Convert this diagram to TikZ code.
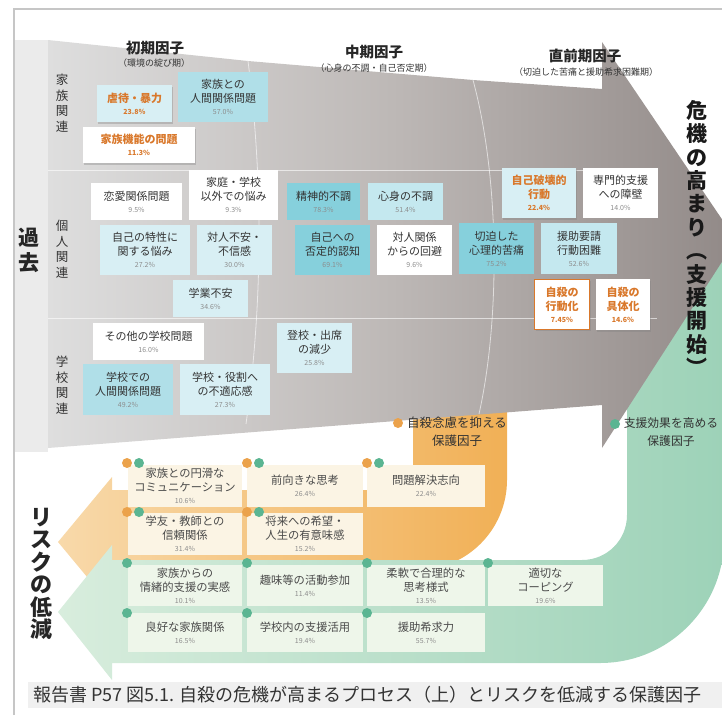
\documentclass[tikz,border=0pt]{standalone}
\usepackage{fontspec}
\setmainfont{Noto Sans CJK JP}
\usetikzlibrary{shadows}
\definecolor{framec}{HTML}{C6C6C6}
\definecolor{txt}{HTML}{333333}
\definecolor{btxt}{HTML}{4A4A4A}
\definecolor{pct}{HTML}{8C8C8C}
\definecolor{otxt}{HTML}{D9782B}
\definecolor{cyA}{HTML}{86D0DC}
\definecolor{cyB}{HTML}{B0DFE8}
\definecolor{cyC}{HTML}{C4E8EF}
\definecolor{cyD}{HTML}{D8EFF4}
\definecolor{cream}{HTML}{FBF4E4}
\definecolor{pgreen}{HTML}{EEF6EA}
\definecolor{odot}{HTML}{EBA24B}
\definecolor{gdot}{HTML}{5BB592}
\definecolor{orA}{HTML}{F1B056}
\definecolor{orB}{HTML}{F8D9AA}
\definecolor{grA}{HTML}{9DD2B8}
\definecolor{grB}{HTML}{D8EDDD}
\definecolor{gyA}{HTML}{DEDEDE}
\definecolor{gyB}{HTML}{BDB8B6}
\definecolor{gyC}{HTML}{918987}
\definecolor{capbg}{HTML}{F0F0F0}
\definecolor{strip}{HTML}{EBEBEB}
\tikzset{
  tbox/.style={rectangle, inner sep=0pt, align=center, text=txt, font=\fontsize{11}{14}\selectfont},
  bbox/.style={rectangle, inner sep=0pt, align=center, text=btxt, font=\fontsize{11.3}{14}\selectfont},
  shd/.style={drop shadow={opacity=0.35, shadow xshift=1pt, shadow yshift=-1.5pt}},
  hdr/.style={font=\fontsize{14.5}{16}\selectfont\bfseries, text=black!85, inner sep=0pt},
  hdrsub/.style={font=\fontsize{9}{11}\selectfont, text=txt, inner sep=0pt},
  vlab/.style={align=center, font=\fontsize{12.5}{15.5}\selectfont, text=txt, inner sep=0pt},
  odotst/.style={circle, fill=odot, inner sep=0pt, minimum size=10pt},
  gdotst/.style={circle, fill=gdot, inner sep=0pt, minimum size=10pt},
  divline/.style={white, opacity=0.6, line width=0.8pt}
}
\newcommand{\pc}[1]{\\[-2pt]{\fontsize{7}{8}\selectfont\color{pct}#1\%}}
\newcommand{\opc}[1]{\\[-2pt]{\fontsize{7}{8}\selectfont\color{otxt}#1\%}}
\begin{document}
\begin{tikzpicture}[x=1pt,y=-1pt]
\useasboundingbox (0,0) rectangle (722,715);
\begin{scope}
\clip (0,0) rectangle (722,715);
% left strip
\fill[strip] (14,40) rectangle (48,452);
% orange U arrow
\path[left color=orB, right color=orA]
  (413,400) -- (507,400) -- (507,480) .. controls (507,529.7) and (466.7,570) .. (417,570)
  -- (112,570) -- (112,607) -- (58,542) -- (112,477) -- (112,490) -- (413,490) -- cycle;
% green U arrow
\path[left color=grB, right color=grA]
  (627,405) -- (627,515) .. controls (627,540) and (607,560) .. (582,560)
  -- (112,560) -- (112,545) -- (58,612) -- (112,680) -- (112,663)
  -- (600,663) .. controls (668.5,663) and (724,607.5) .. (724,539)
  -- (724,255) -- cycle;
% grey arrow
\path[left color=gyA, right color=gyC, middle color=gyB]
  (48,40) -- (248,61) -- (473,80) -- (602,89) -- (602,42) -- (736,240)
  -- (602,448) -- (602,405) -- (48,448) -- cycle;
% dividers
\draw[divline] (248,61) .. controls (263,180) and (263,300) .. (246,424);
\draw[divline] (473,80) .. controls (500,180) and (500,320) .. (479,414);
\draw[divline] (48,170) -- (600,170);
\draw[divline] (48,318) -- (657,318);
\end{scope}
% frame
\draw[framec, line width=1.2pt] (14,715) -- (14,9) -- (722,9);
% side labels
\node[font=\fontsize{21}{25}\selectfont\bfseries, align=center, inner sep=0pt, text=black!85] (kako) at (29,250) {過\\去};
\node[font=\fontsize{22}{22.5}\selectfont\bfseries, align=center, inner sep=0pt, text=black!85] (risk) at (41,574) {リ\\ス\\ク\\の\\低\\減};
\node[font=\fontsize{21}{23.4}\selectfont\bfseries, align=center, inner sep=0pt, text=black!90] (kiki) at (697,238) {危\\機\\の\\高\\ま\\り\\︵\\支\\援\\開\\始\\︶};
\node[vlab] (lfam) at (62,103) {家\\族\\関\\連};
\node[vlab] (lper) at (62,249) {個\\人\\関\\連};
\node[vlab] (lsch) at (62,385) {学\\校\\関\\連};
% headers
\node[hdr] (h1) at (155,48) {初期因子};
\node[hdrsub] (h1s) at (154,63) {（環境の綻び期）};
\node[hdr] (h2) at (374,52) {中期因子};
\node[hdrsub] (h2s) at (374,68) {（心身の不調・自己否定期）};
\node[hdr] (h3) at (585,56) {直前期因子};
\node[hdrsub] (h3s) at (586,72) {（切迫した苦痛と援助希求困難期）};
% top boxes
\node[tbox, fill=cyD, minimum width=75pt, minimum height=37pt, shd, text=otxt, font=\fontsize{11}{14}\selectfont\bfseries] (b1) at (134.5,103.5) {虐待・暴力\opc{23.8}};
\node[tbox, fill=cyB, minimum width=90pt, minimum height=50pt] (b2) at (223,97) {家族との\\人間関係問題\pc{57.0}};
\node[tbox, fill=white, minimum width=112pt, minimum height=36pt, shd, text=otxt, font=\fontsize{11}{14}\selectfont\bfseries] (b3) at (139,145) {家族機能の問題\opc{11.3}};
\node[tbox, fill=white, minimum width=91pt, minimum height=37pt] (b4) at (136.5,201.5) {恋愛関係問題\pc{9.5}};
\node[tbox, fill=white, minimum width=89pt, minimum height=50pt] (b5) at (233.5,195) {家庭・学校\\以外での悩み\pc{9.3}};
\node[tbox, fill=cyA, minimum width=73pt, minimum height=37pt] (b6) at (323.5,201.5) {精神的不調\pc{78.3}};
\node[tbox, fill=cyC, minimum width=75pt, minimum height=37pt] (b7) at (405.5,201.5) {心身の不調\pc{51.4}};
\node[tbox, fill=cyD, minimum width=74pt, minimum height=50pt, shd, text=otxt, font=\fontsize{11}{14}\selectfont\bfseries] (b8) at (539,193) {自己破壊的\\行動\opc{22.4}};
\node[tbox, fill=white, minimum width=75pt, minimum height=50pt] (b9) at (620.5,193) {専門的支援\\への障壁\pc{14.0}};
\node[tbox, fill=cyD, minimum width=90pt, minimum height=50pt] (b10) at (145,250) {自己の特性に\\関する悩み\pc{27.2}};
\node[tbox, fill=cyD, minimum width=75pt, minimum height=50pt] (b11) at (234.5,250) {対人不安・\\不信感\pc{30.0}};
\node[tbox, fill=cyA, minimum width=75pt, minimum height=50pt] (b12) at (332.5,250) {自己への\\否定的認知\pc{69.1}};
\node[tbox, fill=white, minimum width=75pt, minimum height=50pt] (b13) at (414.5,250) {対人関係\\からの回避\pc{9.6}};
\node[tbox, fill=cyA, minimum width=75pt, minimum height=51pt] (b14) at (496.5,248.5) {切迫した\\心理的苦痛\pc{75.2}};
\node[tbox, fill=cyC, minimum width=76pt, minimum height=51pt] (b15) at (579,248.5) {援助要請\\行動困難\pc{52.6}};
\node[tbox, fill=cyD, minimum width=75pt, minimum height=37pt] (b16) at (210.5,298.5) {学業不安\pc{34.6}};
\node[tbox, fill=white, draw=otxt, line width=1.6pt, minimum width=55pt, minimum height=50pt, shd, text=otxt, font=\fontsize{11}{14}\selectfont\bfseries] (b17) at (562,304.5) {自殺の\\行動化\opc{7.45}};
\node[tbox, fill=white, minimum width=54pt, minimum height=51pt, shd, text=otxt, font=\fontsize{11}{14}\selectfont\bfseries] (b18) at (623,304.5) {自殺の\\具体化\opc{14.6}};
\node[tbox, fill=white, minimum width=111pt, minimum height=37pt] (b19) at (148.5,341.5) {その他の学校問題\pc{16.0}};
\node[tbox, fill=cyB, minimum width=90pt, minimum height=51pt] (b20) at (128,389.5) {学校での\\人間関係問題\pc{49.2}};
\node[tbox, fill=cyD, minimum width=90pt, minimum height=51pt] (b21) at (225,389.5) {学校・役割へ\\の不適応感\pc{27.3}};
\node[tbox, fill=cyD, minimum width=75pt, minimum height=50pt] (b22) at (314.5,348) {登校・出席\\の減少\pc{25.8}};
% protective factor labels
\node[odotst] (ldo) at (398,423) {};
\node[font=\fontsize{12.5}{18}\selectfont, align=center, inner sep=0pt, text=black!80] (lor) at (457,432) {自殺念慮を抑える\\保護因子};
\node[gdotst] (ldg) at (615,424) {};
\node[font=\fontsize{11.8}{18}\selectfont, align=center, inner sep=0pt, text=black!80] (lgr) at (671,432) {支援効果を高める\\保護因子};
% bottom boxes (orange area)
\node[bbox, fill=cream, minimum width=114pt, minimum height=42pt] (pa) at (185,486) {家族との円滑な\\コミュニケーション\pc{10.6}};
\node[bbox, fill=cream, minimum width=116pt, minimum height=42pt] (pb) at (305,486) {前向きな思考\pc{26.4}};
\node[bbox, fill=cream, minimum width=118pt, minimum height=42pt] (pc) at (426,486) {問題解決志向\pc{22.4}};
\node[bbox, fill=cream, minimum width=114pt, minimum height=42pt] (pd) at (185,534) {学友・教師との\\信頼関係\pc{31.4}};
\node[bbox, fill=cream, minimum width=116pt, minimum height=42pt] (pe) at (305,534) {将来への希望・\\人生の有意味感\pc{15.2}};
% bottom boxes (green area)
\node[bbox, fill=pgreen, minimum width=114pt, minimum height=41pt] (pf) at (185,585.5) {家族からの\\情緒的支援の実感\pc{10.1}};
\node[bbox, fill=pgreen, minimum width=116pt, minimum height=41pt] (pg) at (305,585.5) {趣味等の活動参加\pc{11.4}};
\node[bbox, fill=pgreen, minimum width=118pt, minimum height=41pt] (ph) at (426,585.5) {柔軟で合理的な\\思考様式\pc{13.5}};
\node[bbox, fill=pgreen, minimum width=115pt, minimum height=41pt] (pi) at (545.5,585.5) {適切な\\コーピング\pc{19.6}};
\node[bbox, fill=pgreen, minimum width=114pt, minimum height=39pt] (pj) at (185,632.5) {良好な家族関係\pc{16.5}};
\node[bbox, fill=pgreen, minimum width=116pt, minimum height=39pt] (pk) at (305,632.5) {学校内の支援活用\pc{19.4}};
\node[bbox, fill=pgreen, minimum width=118pt, minimum height=39pt] (pl) at (426,632.5) {援助希求力\pc{55.7}};
% dots
\node[odotst] (da1) at (127,463) {}; \node[gdotst] (da2) at (139,463) {};
\node[odotst] (db1) at (247,463) {}; \node[gdotst] (db2) at (259,463) {};
\node[odotst] (dc1) at (367,463) {}; \node[gdotst] (dc2) at (379,463) {};
\node[odotst] (dd1) at (127,512) {}; \node[gdotst] (dd2) at (139,512) {};
\node[odotst] (de1) at (247,512) {}; \node[gdotst] (de2) at (259,512) {};
\node[gdotst] (df) at (127,563) {};
\node[gdotst] (dg) at (247,563) {};
\node[gdotst] (dh) at (367,563) {};
\node[gdotst] (di) at (488,563) {};
\node[gdotst] (dj) at (127,613) {};
\node[gdotst] (dk) at (247,613) {};
\node[gdotst] (dl) at (367,613) {};
% caption
\fill[capbg] (28,682) rectangle (722,708);
\node[anchor=west, font=\fontsize{18}{20}\selectfont, text=txt, inner sep=0pt] (cap) at (33,695) {報告書 P57 図5.1. 自殺の危機が高まるプロセス（上）とリスクを低減する保護因子};
\end{tikzpicture}
\end{document}
